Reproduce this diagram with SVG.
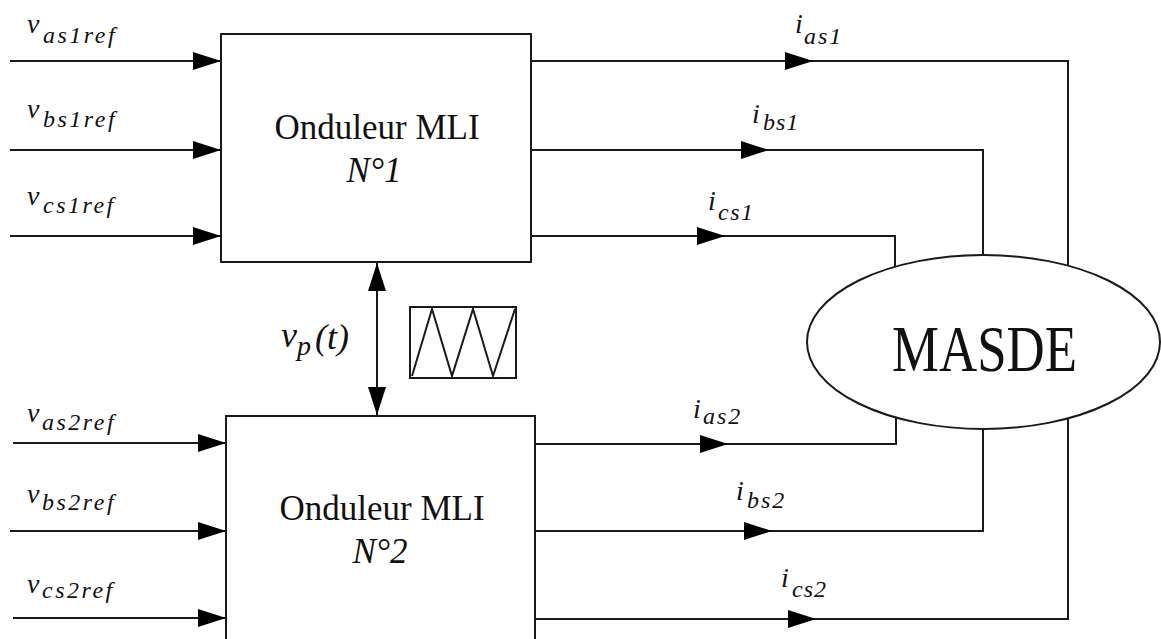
<svg xmlns="http://www.w3.org/2000/svg" width="1161" height="639" viewBox="0 0 1161 639">
<defs>
<path id="ah" d="M-28,-9 L0,0 L-28,9 Z" fill="#000"/>
</defs>
<rect width="1161" height="639" fill="#fff"/>
<g id="connectors" fill="none" stroke="#1a1a1a" stroke-width="2">
<path d="M10,61H221 M10,150H221 M10,236H221"/>
<path d="M13,443H226 M10,531H226 M13,618H226"/>
<path d="M531,61H1068V266 M531,150H983V255 M531,236H895V267"/>
<path d="M535,444H896V417 M535,531H983V429 M535,619H1068V418"/>
<path d="M377,263V415"/>
<g stroke="none" fill="#000">
<use href="#ah" x="221" y="61"/><use href="#ah" x="221" y="150"/><use href="#ah" x="221" y="236"/>
<use href="#ah" x="226" y="443"/><use href="#ah" x="226" y="531"/><use href="#ah" x="226" y="618"/>
<use href="#ah" x="813" y="61"/><use href="#ah" x="769" y="150"/><use href="#ah" x="725" y="236"/>
<use href="#ah" x="728" y="444"/><use href="#ah" x="772" y="531"/><use href="#ah" x="816" y="619"/>
<use href="#ah" transform="translate(377,263) rotate(-90)"/>
<use href="#ah" transform="translate(377,415) rotate(90)"/>
</g>
</g>
<g id="inverter1">
<rect x="221" y="34" width="310" height="228" fill="#fff" stroke="#1a1a1a" stroke-width="2"/>
<text x="377" y="139" font-size="35" font-family="Liberation Serif" fill="#111" text-anchor="middle">Onduleur MLI</text>
<text x="374" y="182" font-size="35" font-family="Liberation Serif" fill="#111" font-style="italic" text-anchor="middle">N&#176;1</text>
</g>
<g id="inverter2">
<rect x="226" y="416" width="309" height="240" fill="#fff" stroke="#1a1a1a" stroke-width="2"/>
<text x="382" y="520" font-size="35" font-family="Liberation Serif" fill="#111" text-anchor="middle">Onduleur MLI</text>
<text x="380" y="563" font-size="35" font-family="Liberation Serif" fill="#111" font-style="italic" text-anchor="middle">N&#176;2</text>
</g>
<g id="masde">
<ellipse cx="983.5" cy="342" rx="176.5" ry="87" fill="#fff" stroke="#1a1a1a" stroke-width="2"/>
<text transform="translate(984.5,371) scale(0.8,1)" x="0" y="0" font-size="66" font-family="Liberation Serif" fill="#111" text-anchor="middle">MASDE</text>
</g>
<g id="carrier">
<rect x="410" y="307" width="106" height="71" fill="#fff" stroke="#1a1a1a" stroke-width="2"/>
<polyline points="412,376 432,309 452,376 473,309 493,376 515,309" fill="none" stroke="#1a1a1a" stroke-width="2"/>
<text x="281" y="347" font-size="36" font-family="Liberation Serif" font-style="italic" fill="#111">v</text>
<text x="297" y="355" font-size="28" font-family="Liberation Serif" font-style="italic" fill="#111">p</text>
<text x="315" y="349" font-size="36" font-family="Liberation Serif" font-style="italic" fill="#111">(t)</text>
</g>
<g id="labels">
<text x="27" y="33" font-size="28" font-family="Liberation Serif" font-style="italic" fill="#111">v</text>
<text x="43" y="43" font-size="24" font-family="Liberation Serif" font-style="italic" fill="#111" letter-spacing="2.5">as1ref</text>
<text x="27" y="118" font-size="28" font-family="Liberation Serif" font-style="italic" fill="#111">v</text>
<text x="43" y="127" font-size="24" font-family="Liberation Serif" font-style="italic" fill="#111" letter-spacing="2.5">bs1ref</text>
<text x="27" y="205" font-size="28" font-family="Liberation Serif" font-style="italic" fill="#111">v</text>
<text x="43" y="213" font-size="24" font-family="Liberation Serif" font-style="italic" fill="#111" letter-spacing="2.5">cs1ref</text>
<text x="27" y="422" font-size="28" font-family="Liberation Serif" font-style="italic" fill="#111">v</text>
<text x="42" y="430" font-size="24" font-family="Liberation Serif" font-style="italic" fill="#111" letter-spacing="2.5">as2ref</text>
<text x="27" y="503" font-size="28" font-family="Liberation Serif" font-style="italic" fill="#111">v</text>
<text x="42" y="510" font-size="24" font-family="Liberation Serif" font-style="italic" fill="#111" letter-spacing="2.5">bs2ref</text>
<text x="27" y="593" font-size="28" font-family="Liberation Serif" font-style="italic" fill="#111">v</text>
<text x="42" y="598" font-size="24" font-family="Liberation Serif" font-style="italic" fill="#111" letter-spacing="2.5">cs2ref</text>
<text x="795" y="33" font-size="28" font-family="Liberation Serif" font-style="italic" fill="#111">i</text>
<text x="804" y="44" font-size="24" font-family="Liberation Serif" font-style="italic" fill="#111" letter-spacing="2">as1</text>
<text x="752" y="123" font-size="28" font-family="Liberation Serif" font-style="italic" fill="#111">i</text>
<text x="763" y="130" font-size="24" font-family="Liberation Serif" font-style="italic" fill="#111" letter-spacing="1">bs1</text>
<text x="708" y="210" font-size="28" font-family="Liberation Serif" font-style="italic" fill="#111">i</text>
<text x="718" y="220" font-size="24" font-family="Liberation Serif" font-style="italic" fill="#111" letter-spacing="1.5">cs1</text>
<text x="693" y="418" font-size="28" font-family="Liberation Serif" font-style="italic" fill="#111">i</text>
<text x="703" y="424" font-size="24" font-family="Liberation Serif" font-style="italic" fill="#111" letter-spacing="2">as2</text>
<text x="736" y="500" font-size="28" font-family="Liberation Serif" font-style="italic" fill="#111">i</text>
<text x="747" y="508" font-size="24" font-family="Liberation Serif" font-style="italic" fill="#111" letter-spacing="2">bs2</text>
<text x="781" y="587" font-size="28" font-family="Liberation Serif" font-style="italic" fill="#111">i</text>
<text x="792" y="597" font-size="24" font-family="Liberation Serif" font-style="italic" fill="#111" letter-spacing="1">cs2</text>
</g>
</svg>
